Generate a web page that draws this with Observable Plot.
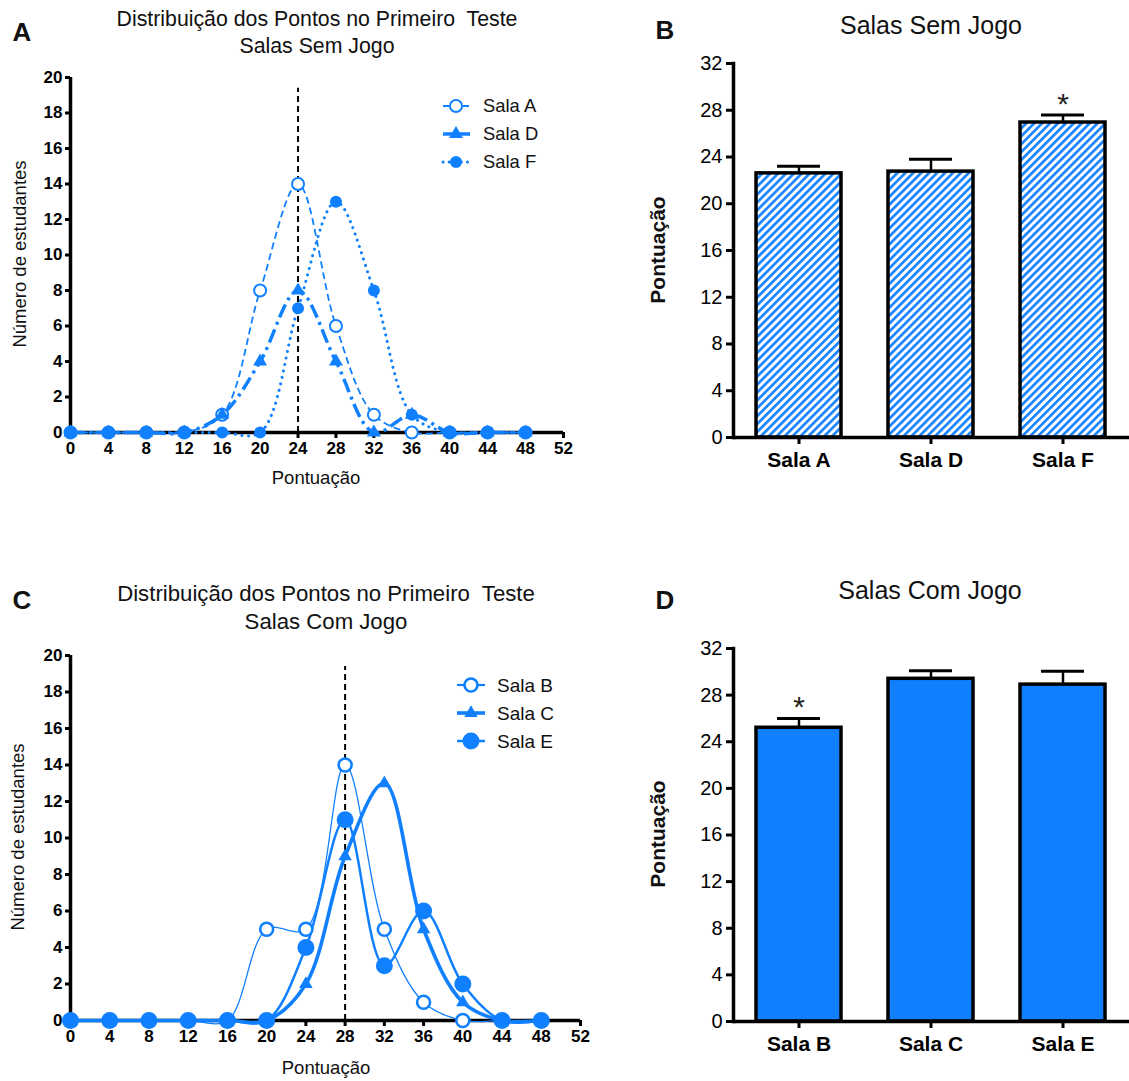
<!DOCTYPE html>
<html><head><meta charset="utf-8">
<script src="https://cdn.jsdelivr.net/npm/d3@7"></script>
<script src="https://cdn.jsdelivr.net/npm/@observablehq/plot@0.6"></script>
<style>
body{margin:0;background:#fff;font-family:"Liberation Sans",Arial,Helvetica,sans-serif;}
#root{position:relative;width:1129px;height:1081px;overflow:hidden;background:#fff;}
.abs{position:absolute;white-space:pre;color:#111;line-height:1;}
svg{overflow:visible;}
</style></head><body><div id="root"></div>
<script>
// ---------------- DATA ----------------
const scores = [0,4,8,12,16,20,24,28,32,36,40,44,48];
const xTicks = [0,4,8,12,16,20,24,28,32,36,40,44,48,52];
const yTicksLine = [0,2,4,6,8,10,12,14,16,18,20];
// Panel A: Salas Sem Jogo (students per score)
const salaA = [0,0,0,0,1,8,14,6,1,0,0,0,0];
const salaD = [0,0,0,0,1,4,8,4,0,1,0,0,0];
const salaF = [0,0,0,0,0,0,7,13,8,1,0,0,0];
// Panel C: Salas Com Jogo
const salaB = [0,0,0,0,0,5,5,14,5,1,0,0,0];
const salaC = [0,0,0,0,0,0,2,9,13,5,1,0,0];
const salaE = [0,0,0,0,0,0,4,11,3,6,2,0,0];
const refLineA = [24];
const refLineC = [28];
const refTop = 19.4;
// Panel B: means and SEM
const barCatsB = ["Sala A","Sala D","Sala F"];
const barMeansB = [22.6, 22.75, 26.95];
const barErrB = [0.6, 1.05, 0.65];
const barSigB = ["", "", "*"];
// Panel D
const barCatsD = ["Sala B","Sala C","Sala E"];
const barMeansD = [25.2, 29.4, 28.9];
const barErrD = [0.8, 0.7, 1.15];
const barSigD = ["*", "", ""];
const yTicksBar = [0,4,8,12,16,20,24,28,32];

// ---------------- STYLE ----------------
const blue = "#1180ff";
const FONT = "'Liberation Sans', Arial, Helvetica, sans-serif";
const root = document.getElementById("root");

function place(el, left, top){ el.style.position="absolute"; el.style.left=left+"px"; el.style.top=top+"px"; root.appendChild(el); }
function label(text, x, y, {size=18, weight="normal", rotate=false}={}){
  const d = document.createElement("div");
  d.className = "abs";
  d.textContent = text;
  d.style.fontSize = size+"px";
  d.style.fontWeight = weight;
  d.style.left = x+"px"; d.style.top = y+"px";
  d.style.transform = "translate(-50%,-50%)" + (rotate ? " rotate(-90deg)" : "");
  root.appendChild(d);
}

const styleA = {
  "Sala A": {symbol:"circle", r:6, fill:"white", stroke:blue, sw:2, lw:1.8, dash:"7,4", cap:"butt"},
  "Sala D": {symbol:"triangle", r:5.2, fill:blue, stroke:"none", sw:0, lw:3.5, dash:"14,5,3,5", cap:"butt"},
  "Sala F": {symbol:"circle", r:6, fill:blue, stroke:"none", sw:0, lw:3, dash:"0.1,6.5", cap:"round"}
};
const styleC = {
  "Sala B": {symbol:"circle", r:6.5, fill:"white", stroke:blue, sw:2.6, lw:1.3, dash:null, cap:"butt"},
  "Sala C": {symbol:"triangle", r:5, fill:blue, stroke:"none", sw:0, lw:3.6, dash:null, cap:"butt"},
  "Sala E": {symbol:"circle", r:8.5, fill:blue, stroke:"none", sw:0, lw:2.5, dash:null, cap:"butt"}
};

function lineChart({series, styles, ref, width, height, ml, mr, mt, mb}){
  const marks = [
    Plot.axisX({ticks: xTicks, tickSize: 6, tickPadding: 3, strokeWidth: 3, fontSize: 17, fontWeight: "bold", label: null}),
    Plot.axisY({ticks: yTicksLine, tickSize: 5, tickPadding: 3, strokeWidth: 3, fontSize: 17, fontWeight: "bold", label: null}),
    Plot.ruleY([0], {stroke: "#000", strokeWidth: 3.5}),
    Plot.ruleX([0], {stroke: "#000", strokeWidth: 3.5}),
    Plot.ruleX(ref, {y1: 0, y2: refTop, stroke: "#000", strokeWidth: 2, strokeDasharray: "6,4"})
  ];
  for (const [name, vals] of series) {
    const s = styles[name];
    const data = scores.map((x,i)=>({score:x, n:vals[i]}));
    marks.push(Plot.line(data, {x:"score", y:"n", curve:"catmull-rom", stroke: blue, strokeWidth: s.lw,
      strokeDasharray: s.dash || undefined, strokeLinecap: s.cap}));
  }
  for (const [name, vals] of series) {
    const s = styles[name];
    const data = scores.map((x,i)=>({score:x, n:vals[i]}));
    marks.push(Plot.dot(data, {x:"score", y:"n", symbol: s.symbol, r: s.r, fill: s.fill, stroke: s.stroke, strokeWidth: s.sw}));
  }
  return Plot.plot({
    width, height, marginLeft: ml, marginRight: mr, marginTop: mt, marginBottom: mb,
    style: {fontFamily: FONT, color: "#000", background: "transparent", overflow: "visible"},
    x: {domain: [0,52]},
    y: {domain: [0,20]},
    marks
  });
}

function barChart({cats, means, errs, sigs, fill, width, height, ml, mr, mt, mb}){
  const d = cats.map((c,i)=>({sala:c, mean:means[i], err:errs[i], sig:sigs[i]}));
  return Plot.plot({
    width, height, marginLeft: ml, marginRight: mr, marginTop: mt, marginBottom: mb,
    style: {fontFamily: FONT, color: "#000", background: "transparent", overflow: "visible"},
    x: {domain: cats, paddingInner: 0.354, paddingOuter: 0.177},
    y: {domain: [0,32]},
    marks: [
      Plot.axisY({ticks: yTicksBar, tickSize: 7, tickPadding: 4, strokeWidth: 3, fontSize: 20, label: null}),
      Plot.axisX({tickSize: 7, tickPadding: 8, strokeWidth: 3, fontSize: 21, fontWeight: "bold", label: null}),
      Plot.ruleX(d, {x: "sala", y1: "mean", y2: r => r.mean + r.err, stroke: "#000", strokeWidth: 2.5}),
      Plot.tickY(d, {x: "sala", y: r => r.mean + r.err, inset: 21, stroke: "#000", strokeWidth: 3}),
      Plot.barY(d, {x: "sala", y: "mean", fill, stroke: "#000", strokeWidth: 3.5}),
      Plot.text(d.filter(r => r.sig), {x: "sala", y: r => r.mean + r.err, text: "sig", dy: -11, fontSize: 30, fill: "#222"}),
      Plot.ruleY([0], {stroke: "#000", strokeWidth: 3.5}),
      Plot.frame({anchor: "left", stroke: "#000", strokeWidth: 3.5})
    ]
  });
}

// ---------------- PANELS ----------------
const pA = lineChart({series: [["Sala A", salaA], ["Sala D", salaD], ["Sala F", salaF]], styles: styleA, ref: refLineA,
  width: 580, height: 431, ml: 70, mr: 17, mt: 18, mb: 58});
place(pA, 0, 59);

const pC = lineChart({series: [["Sala B", salaB], ["Sala C", salaC], ["Sala E", salaE]], styles: styleC, ref: refLineC,
  width: 600, height: 443, ml: 70, mr: 20, mt: 18, mb: 60});
place(pC, 0, 637);

const pB = barChart({cats: barCatsB, means: barMeansB, errs: barErrB, sigs: barSigB, fill: "url(#hatch)",
  width: 549, height: 445, ml: 153, mr: 0, mt: 18, mb: 53});
d3.select(pB).insert("defs", ":first-child").html(
  `<pattern id="hatch" patternUnits="userSpaceOnUse" width="5.6" height="5.6" patternTransform="rotate(45)">
     <rect width="5.6" height="5.6" fill="white"/><rect width="2.6" height="5.6" fill="${blue}"/></pattern>`);
place(pB, 580, 45);

const pD = barChart({cats: barCatsD, means: barMeansD, errs: barErrD, sigs: barSigD, fill: blue,
  width: 549, height: 451, ml: 153, mr: 0, mt: 18, mb: 60});
place(pD, 580, 630);

// ---------------- LEGENDS ----------------
const ov = d3.select(root).append("svg").attr("width", 1129).attr("height", 1081)
  .style("position","absolute").style("left","0").style("top","0").style("pointer-events","none");
function legend(items, styles, x0, x1, xs, xt, rows, size, legDash){
  items.forEach((name, i) => {
    const s = styles[name], y = rows[i];
    ov.append("line").attr("x1", x0).attr("x2", x1).attr("y1", y).attr("y2", y)
      .attr("stroke", blue).attr("stroke-width", Math.max(s.lw, 2.2))
      .attr("stroke-dasharray", legDash[i]).attr("stroke-linecap", s.cap);
    const sym = d3.symbol(s.symbol === "triangle" ? d3.symbolTriangle : d3.symbolCircle, Math.PI * s.r * s.r);
    ov.append("path").attr("d", sym()).attr("transform", `translate(${xs},${y})`)
      .attr("fill", s.fill).attr("stroke", s.stroke).attr("stroke-width", s.sw);
    ov.append("text").attr("x", xt).attr("y", y).attr("dy", "0.35em").attr("font-size", size)
      .attr("font-family", FONT).attr("fill", "#111").text(name);
  });
}
legend(["Sala A","Sala D","Sala F"], styleA, 443, 470, 456, 483, [106,134,162], 18.4, ["6,4", null, "0.1,6"]);
legend(["Sala B","Sala C","Sala E"], styleC, 457, 485, 471, 497, [685,713,741], 19, [null, null, null]);

// ---------------- TEXT ----------------
label("A", 22, 32, {size: 26, weight: "bold"});
label("Distribuição dos Pontos no Primeiro  Teste", 317, 20, {size: 21.3});
label("Salas Sem Jogo", 317, 47, {size: 21.3});
label("Número de estudantes", 20, 254, {size: 18.5, rotate: true});
label("Pontuação", 316, 478, {size: 18.5});

label("B", 665, 30, {size: 26, weight: "bold"});
label("Salas Sem Jogo", 931, 25, {size: 25});
label("Pontuação", 657, 250, {size: 21, weight: "bold", rotate: true});

label("C", 22, 600, {size: 26, weight: "bold"});
label("Distribuição dos Pontos no Primeiro  Teste", 326, 594, {size: 22.2});
label("Salas Com Jogo", 326, 622, {size: 22.2});
label("Número de estudantes", 18, 837, {size: 18.5, rotate: true});
label("Pontuação", 326, 1068, {size: 18.5});

label("D", 665, 600, {size: 26, weight: "bold"});
label("Salas Com Jogo", 930, 590, {size: 25});
label("Pontuação", 657, 834, {size: 21, weight: "bold", rotate: true});
</script></body></html>
